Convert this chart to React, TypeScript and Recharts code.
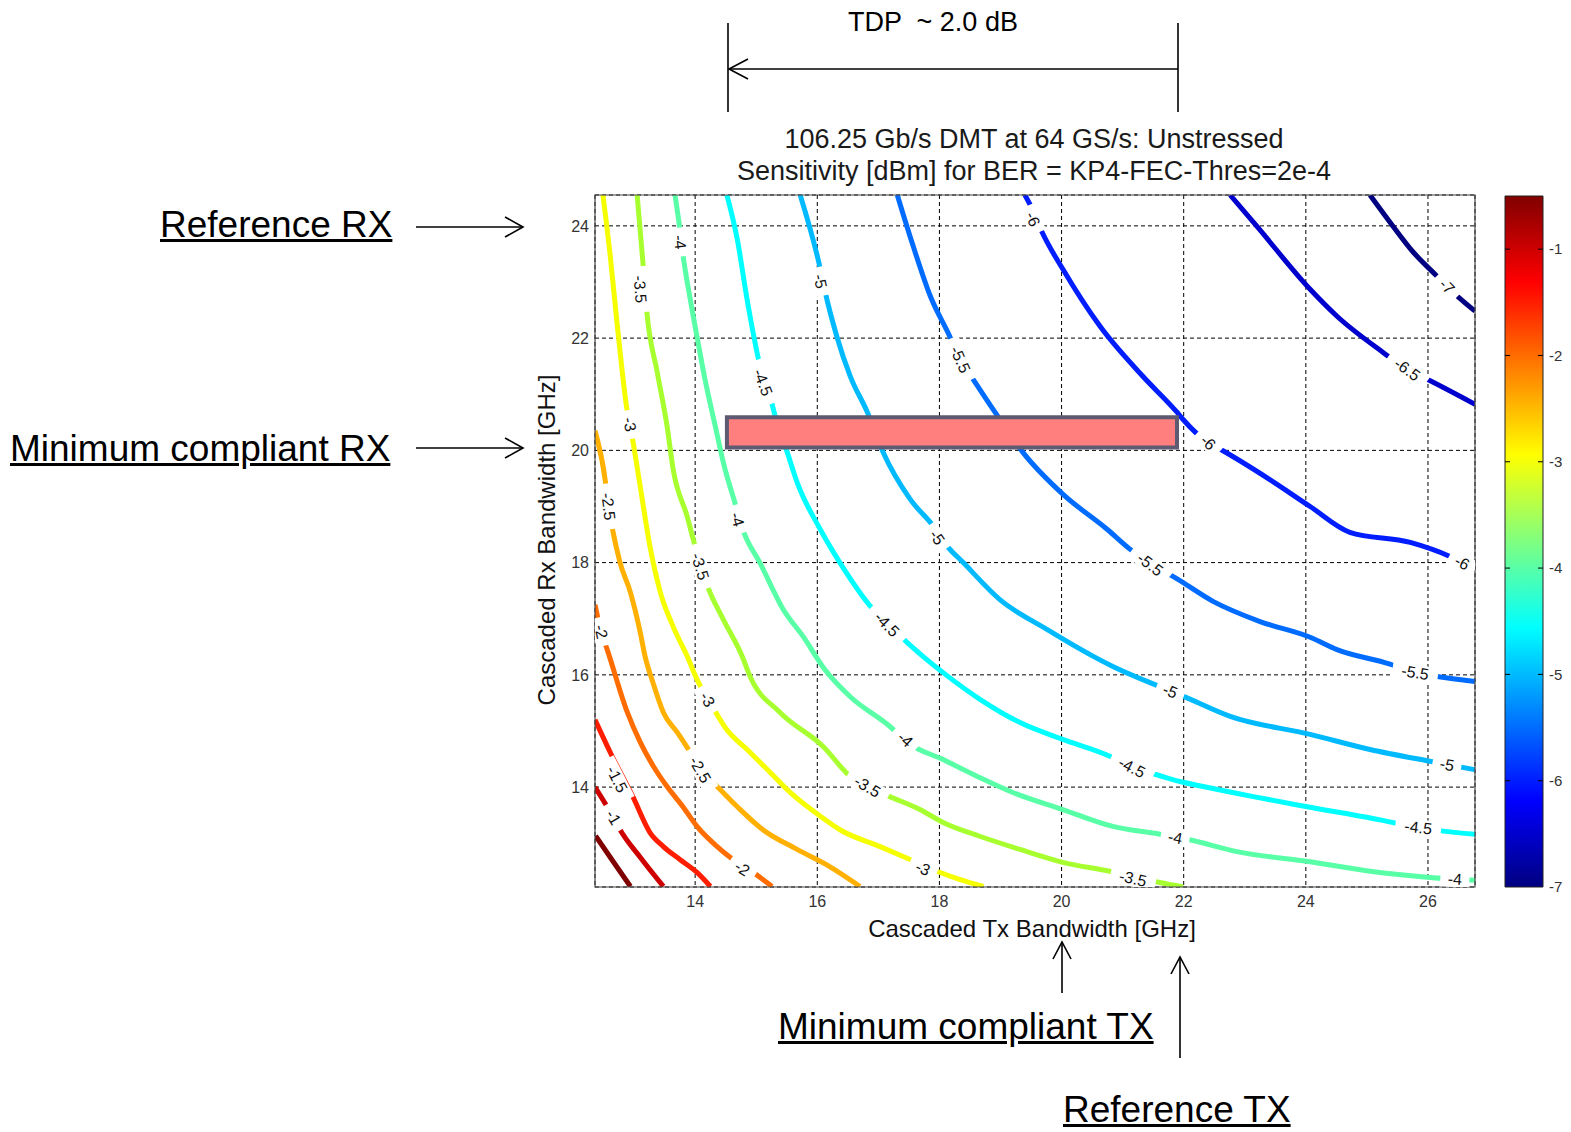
import React from 'react';
import {
  ComposedChart,
  Line,
  Scatter,
  XAxis,
  YAxis,
  CartesianGrid,
  ReferenceArea,
  ReferenceLine,
  BarChart,
  Bar,
} from 'recharts';

// axis ranges (GHz)
const xDomain: [number, number] = [12.36, 26.77];
const yDomain: [number, number] = [12.22, 24.55];
const xTicks = [14, 16, 18, 20, 22, 24, 26];
const yTicks = [14, 16, 18, 20, 22, 24];
const barTicks = [-1, -2, -3, -4, -5, -6, -7];
const barRange: [number, number] = [-7, -0.5];

// contour paths [tx, rx], one per sensitivity level (dBm)
const lvM05: [number, number][] = [[12.37, 13.13], [12.66, 12.67], [12.94, 12.23]];
const lvM10: [number, number][] = [[12.36, 14.0], [12.66, 13.46], [12.77, 13.24], [13.1, 12.75], [13.48, 12.23]];
const lvM15: [number, number][] = [
  [12.36, 15.2], [12.64, 14.55], [12.98, 13.83], [13.26, 13.19], [13.48, 12.94], [13.75, 12.71], [14.03, 12.48], [14.25, 12.23],
];
const lvM20: [number, number][] = [
  [12.36, 17.25], [12.46, 16.77], [12.56, 16.45], [12.89, 15.33], [13.1, 14.8], [13.38, 14.26], [13.54, 14.01], [13.8, 13.65],
  [14.03, 13.3], [14.36, 12.94], [14.62, 12.71], [14.95, 12.48], [15.26, 12.23],
];
const lvM25: [number, number][] = [
  [12.36, 20.35], [12.53, 19.45], [12.58, 19.0], [12.64, 18.63], [12.77, 18.0], [12.94, 17.47], [13.1, 16.76], [13.18, 16.33],
  [13.31, 15.86], [13.48, 15.33], [13.71, 14.97], [13.89, 14.67], [14.08, 14.31], [14.36, 14.01], [14.69, 13.65], [15.11, 13.24],
  [15.67, 12.89], [16.21, 12.58], [16.7, 12.23],
];
const lvM30: [number, number][] = [
  [12.49, 24.55], [12.61, 23.46], [12.72, 22.28], [12.89, 20.68], [12.97, 20.23], [13.1, 19.36], [13.26, 18.29], [13.43, 17.47],
  [13.64, 16.86], [13.87, 16.33], [14.03, 15.92], [14.28, 15.44], [14.5, 15.05], [14.85, 14.67], [15.23, 14.26], [15.56, 13.9],
  [16.05, 13.48], [16.37, 13.24], [17.03, 12.94], [17.52, 12.71], [17.96, 12.5], [18.34, 12.35], [18.72, 12.23],
];
const lvM35: [number, number][] = [
  [13.05, 24.55], [13.15, 23.28], [13.21, 22.46], [13.38, 21.39], [13.54, 20.43], [13.64, 19.66], [13.87, 18.82], [14.0, 18.29],
  [14.21, 17.56], [14.46, 16.99], [14.77, 16.33], [14.9, 15.97], [15.39, 15.33], [16.1, 14.72], [16.54, 14.19], [16.82, 14.01],
  [17.19, 13.83], [17.68, 13.6], [18.06, 13.37], [18.67, 13.12], [19.32, 12.89], [20.02, 12.66], [20.79, 12.5], [21.61, 12.3],
  [21.99, 12.22],
];
const lvM40: [number, number][] = [
  [13.67, 24.55], [13.75, 23.94], [13.8, 23.49], [13.92, 22.69], [14.03, 22.03], [14.16, 21.27], [14.33, 20.43], [14.46, 19.79],
  [14.65, 19.07], [14.79, 18.56], [15.06, 18.0], [15.44, 17.17], [15.77, 16.68], [16.12, 16.1], [16.54, 15.61], [17.19, 15.08],
  [17.47, 14.8], [18.06, 14.49], [18.62, 14.19], [19.21, 13.9], [20.02, 13.6], [20.84, 13.3], [21.61, 13.16], [22.06, 13.07],
  [22.87, 12.85], [24.07, 12.67], [25.05, 12.5], [26.03, 12.39], [26.77, 12.34],
];
const lvM45: [number, number][] = [
  [14.52, 24.55], [14.69, 23.76], [14.85, 22.69], [15.02, 21.71], [15.11, 21.27], [15.23, 20.94], [15.31, 20.61], [15.51, 19.96],
  [15.67, 19.43], [16.05, 18.59], [16.37, 18.0], [16.91, 17.17], [17.19, 16.86], [17.47, 16.58], [17.73, 16.33], [18.06, 16.04],
  [18.67, 15.56], [19.32, 15.15], [20.02, 14.85], [20.79, 14.55], [21.15, 14.35], [21.56, 14.22], [21.94, 14.1], [22.32, 14.01],
  [23.14, 13.83], [24.07, 13.64], [25.33, 13.39], [25.71, 13.3], [26.77, 13.16],
];
const lvM50: [number, number][] = [
  [15.72, 24.55], [16.05, 23.23], [16.13, 22.82], [16.32, 22.03], [16.54, 21.32], [16.82, 20.68], [17.08, 19.96], [17.52, 19.13],
  [17.9, 18.65], [18.13, 18.29], [18.39, 18.0], [18.99, 17.34], [19.76, 16.81], [20.52, 16.33], [20.84, 16.15], [21.61, 15.79],
  [21.99, 15.62], [22.76, 15.26], [24.07, 14.94], [25.05, 14.67], [26.03, 14.46], [26.77, 14.31],
];
const lvM55: [number, number][] = [
  [17.31, 24.55], [17.57, 23.64], [17.85, 22.75], [18.17, 22.03], [18.34, 21.62], [18.55, 21.27], [18.91, 20.68], [19.37, 19.96],
  [20.02, 19.22], [20.75, 18.59], [21.12, 18.24], [21.45, 17.97], [21.83, 17.75], [22.48, 17.31], [23.25, 16.95], [24.07, 16.67],
  [24.51, 16.45], [25.38, 16.19], [25.76, 16.04], [26.15, 15.97], [26.77, 15.88],
];
const lvM60: [number, number][] = [
  [19.4, 24.55], [19.52, 24.3], [19.68, 23.89], [20.02, 23.23], [20.63, 22.21], [21.33, 21.32], [21.89, 20.68], [21.99, 20.55],
  [22.4, 20.14], [22.6, 20.02], [23.41, 19.48], [24.07, 19.0], [24.72, 18.54], [25.71, 18.36], [26.36, 18.11], [26.77, 17.88],
];
const lvM65: [number, number][] = [
  [22.76, 24.55], [23.2, 23.99], [24.07, 22.87], [24.51, 22.39], [25.26, 21.75], [25.66, 21.44], [25.98, 21.27], [26.77, 20.82],
];
const lvM70: [number, number][] = [[25.05, 24.55], [25.43, 23.99], [25.76, 23.53], [26.15, 23.1], [26.31, 22.92], [26.77, 22.48]];

const contourLevels = [-0.5, -1, -1.5, -2, -2.5, -3, -3.5, -4, -4.5, -5, -5.5, -6, -6.5, -7];
const contourPaths = [lvM05, lvM10, lvM15, lvM20, lvM25, lvM30, lvM35, lvM40, lvM45, lvM50, lvM55, lvM60, lvM65, lvM70];

// inline contour labels: [level, tx, rx]
const labelSpots: [number, number, number][] = [
  [-1, 12.66, 13.46],
  [-1.5, 12.72, 14.14],
  [-2, 12.46, 16.77], [-2, 14.77, 12.55],
  [-2.5, 12.58, 19.0], [-2.5, 14.08, 14.31],
  [-3, 12.93, 20.46], [-3, 14.2, 15.56], [-3, 17.73, 12.55],
  [-3.5, 13.1, 22.87], [-3.5, 14.08, 17.93], [-3.5, 16.82, 14.01], [-3.5, 21.17, 12.37],
  [-4, 13.75, 23.71], [-4, 14.69, 18.77], [-4, 17.44, 14.85], [-4, 21.86, 13.1], [-4, 26.44, 12.36],
  [-4.5, 15.11, 21.21], [-4.5, 17.14, 16.9], [-4.5, 21.15, 14.35], [-4.5, 25.84, 13.28],
  [-5, 16.05, 23.01], [-5, 17.96, 18.45], [-5, 21.78, 15.71], [-5, 26.31, 14.4],
  [-5.5, 18.34, 21.62], [-5.5, 21.45, 17.97], [-5.5, 25.79, 16.04],
  [-6, 19.53, 24.12], [-6, 22.4, 20.14], [-6, 26.56, 18.0],
  [-6.5, 25.66, 21.44],
  [-7, 26.31, 22.92],
];

// compliance box (Tx 14.5..21.9, Rx 20..20.6)
const boxTx: [number, number] = [14.52, 21.89];
const boxRx: [number, number] = [20.05, 20.59];

const levelColors: Record<string, string> = {
  '-0.5': '#800000', '-1': '#ce0000', '-1.5': '#ff1d00', '-2': '#ff6c00', '-2.5': '#ffb000',
  '-3': '#f5ff00', '-3.5': '#a7ff30', '-4': '#58ffa7', '-4.5': '#00ffff', '-5': '#00baff',
  '-5.5': '#006cff', '-6': '#001dff', '-6.5': '#0000ce', '-7': '#000080',
};

const FONT = '"Liberation Sans", Arial, Helvetica, sans-serif';

// chart frame in page pixels
const CH_LEFT = 500;
const CH_TOP = 100;
const CH_W = 1000;
const CH_H = 880;
const baseMargin = { top: 95, left: 35, right: 25, bottom: 33 };
const overlayMargin = { top: 95, left: 95, right: 25, bottom: 93 };
const PLOT_W = CH_W - 95 - 25;
const PLOT_H = CH_H - 95 - 93;
const KX = PLOT_W / (xDomain[1] - xDomain[0]);
const KY = PLOT_H / (yDomain[1] - yDomain[0]);

const lines = contourLevels.map((level, i) => ({
  level,
  pts: contourPaths[i].map(([x, y]) => ({ x, y })),
}));

function labelAngle(level: number, x: number, y: number) {
  const path = contourPaths[contourLevels.indexOf(level)];
  let best = 0;
  let bestD = Infinity;
  for (let i = 0; i < path.length - 1; i++) {
    const ax = path[i][0] * KX, ay = -path[i][1] * KY;
    const bx = path[i + 1][0] * KX, by = -path[i + 1][1] * KY;
    const px = x * KX, py = -y * KY;
    const vx = bx - ax, vy = by - ay;
    const t = Math.max(0, Math.min(1, ((px - ax) * vx + (py - ay) * vy) / (vx * vx + vy * vy)));
    const d = Math.hypot(ax + t * vx - px, ay + t * vy - py);
    if (d < bestD) {
      bestD = d;
      let a = (Math.atan2(vy, vx) * 180) / Math.PI;
      if (a > 90) a -= 180;
      if (a < -90) a += 180;
      best = a;
    }
  }
  return best;
}

const labelData = labelSpots.map(([level, x, y]) => ({ level, x, y, angle: labelAngle(level, x, y) }));

const ContourLabel = (props: any) => {
  const { cx, cy, payload } = props;
  if (cx == null || cy == null) return null;
  const txt = String(payload.level);
  const w = txt.length * 8.5 + 12;
  return (
    <g transform={`translate(${cx},${cy}) rotate(${payload.angle})`}>
      <rect x={-w / 2} y={-8} width={w} height={16} fill="#fff" />
      <text x={0} y={0} textAnchor="middle" dominantBaseline="central" fontSize={16} fontFamily={FONT} fill="#111">
        {txt}
      </text>
    </g>
  );
};

const tickStyle = { fontSize: 16, fontFamily: FONT, fill: '#333' };

const abs = (left: number, top: number, extra: React.CSSProperties = {}): React.CSSProperties => ({
  position: 'absolute',
  left,
  top,
  fontFamily: FONT,
  color: '#000',
  whiteSpace: 'pre',
  ...extra,
});

const noteStyle: React.CSSProperties = { fontSize: 37, lineHeight: '42px', textDecoration: 'underline' };

export default function App() {
  return (
    <div style={{ position: 'absolute', left: 0, top: 0, width: 1571, height: 1132, background: '#fff' }}>
      {/* title */}
      <div style={abs(634, 123, { width: 800, textAlign: 'center', fontSize: 27, lineHeight: '32px', color: '#1a1a1a' })}>
        106.25 Gb/s DMT at 64 GS/s: Unstressed{'\n'}Sensitivity [dBm] for BER = KP4-FEC-Thres=2e-4
      </div>

      {/* base chart: grid, axes, contour lines */}
      <div style={abs(CH_LEFT, CH_TOP)}>
        <ComposedChart width={CH_W} height={CH_H} margin={baseMargin}>
          <CartesianGrid stroke="#000" strokeDasharray="4 3" />
          <XAxis
            type="number"
            dataKey="x"
            domain={xDomain}
            ticks={xTicks}
            allowDataOverflow
            height={60}
            axisLine={false}
            tickLine={false}
            tickSize={0}
            tickMargin={9}
            tick={tickStyle}
          />
          <YAxis
            type="number"
            dataKey="y"
            domain={yDomain}
            ticks={yTicks}
            allowDataOverflow
            width={60}
            axisLine={false}
            tickLine={false}
            tickSize={0}
            tickMargin={6}
            tick={tickStyle}
          />
          {lines.map((l) => (
            <Line
              key={l.level}
              data={l.pts}
              dataKey="y"
              type="monotoneX"
              stroke={levelColors[String(l.level)]}
              strokeWidth={5}
              dot={false}
              activeDot={false}
              isAnimationActive={false}
            />
          ))}
        </ComposedChart>
      </div>

      {/* overlay chart: labels, compliance box, frame */}
      <div style={abs(CH_LEFT, CH_TOP, { pointerEvents: 'none' })}>
        <ComposedChart width={CH_W} height={CH_H} margin={overlayMargin}>
          <XAxis type="number" dataKey="x" domain={xDomain} allowDataOverflow hide />
          <YAxis type="number" dataKey="y" domain={yDomain} allowDataOverflow hide />
          <Scatter data={labelData} dataKey="y" shape={<ContourLabel />} isAnimationActive={false} />
          <ReferenceArea
            x1={boxTx[0]}
            x2={boxTx[1]}
            y1={boxRx[0]}
            y2={boxRx[1]}
            fill="#ff7f7f"
            fillOpacity={1}
            stroke="#5e5a72"
            strokeWidth={4}
          />
          <ReferenceArea
            x1={xDomain[0]}
            x2={xDomain[1]}
            y1={yDomain[0]}
            y2={yDomain[1]}
            fill="none"
            stroke="#444"
            strokeWidth={1.2}
          />
        </ComposedChart>
      </div>

      {/* axis titles */}
      <div style={abs(732, 914, { width: 600, textAlign: 'center', fontSize: 24, lineHeight: '30px', color: '#111' })}>
        Cascaded Tx Bandwidth [GHz]
      </div>
      <div
        style={abs(297, 525, {
          width: 500,
          textAlign: 'center',
          fontSize: 24,
          lineHeight: '30px',
          color: '#111',
          transform: 'rotate(-90deg)',
        })}
      >
        Cascaded Rx Bandwidth [GHz]
      </div>

      {/* colour bar */}
      <div style={abs(1490, 186)}>
        <BarChart
          width={81}
          height={720}
          data={[{ name: 'cb', range: barRange }]}
          margin={{ top: 10, left: 15, right: 0, bottom: 19 }}
          barCategoryGap={0}
        >
          <defs>
            <linearGradient id="jet" x1="0" y1="0" x2="0" y2="1">
              <stop offset="0" stopColor="#800000" />
              <stop offset="0.125" stopColor="#ff0000" />
              <stop offset="0.375" stopColor="#ffff00" />
              <stop offset="0.625" stopColor="#00ffff" />
              <stop offset="0.875" stopColor="#0000ff" />
              <stop offset="1" stopColor="#000080" />
            </linearGradient>
          </defs>
          <XAxis dataKey="name" hide />
          <YAxis
            orientation="right"
            type="number"
            domain={barRange}
            ticks={barTicks}
            width={28}
            axisLine={false}
            tickLine={false}
            tickSize={0}
            tickMargin={6}
            tick={{ ...tickStyle, fontSize: 15 }}
          />
          <Bar dataKey="range" fill="url(#jet)" stroke="#222" strokeWidth={1} isAnimationActive={false} />
          {barTicks.slice(0, 6).map((t) => (
            <ReferenceLine key={t} y={t} stroke="#000" strokeDasharray="5 28" />
          ))}
        </BarChart>
      </div>

      {/* annotations */}
      <div style={abs(733, 6, { width: 400, textAlign: 'center', fontSize: 27, lineHeight: '32px' })}>TDP  ~ 2.0 dB</div>
      <div style={abs(160, 204, noteStyle)}>Reference RX</div>
      <div style={abs(10, 428, noteStyle)}>Minimum compliant RX</div>
      <div style={abs(778, 1006, noteStyle)}>Minimum compliant TX</div>
      <div style={abs(1063, 1089, noteStyle)}>Reference TX</div>

      <svg width={1571} height={1132} style={{ position: 'absolute', left: 0, top: 0, pointerEvents: 'none' }}>
        <g stroke="#000" strokeWidth={1.6} fill="none">
          <line x1={728} y1={23} x2={728} y2={112} />
          <line x1={1178} y1={23} x2={1178} y2={112} />
          <line x1={729} y1={69} x2={1178} y2={69} />
          <polyline points="748,59 729,69 748,79" />

          <line x1={416} y1={227} x2={523} y2={227} />
          <polyline points="505,217 523,227 505,237" />
          <line x1={416} y1={448} x2={523} y2={448} />
          <polyline points="505,438 523,448 505,458" />

          <line x1={1062} y1={993} x2={1062} y2={942} />
          <polyline points="1053,959 1062,942 1071,959" />
          <line x1={1180} y1={1058} x2={1180} y2={957} />
          <polyline points="1171,974 1180,957 1189,974" />
        </g>
      </svg>
    </div>
  );
}
